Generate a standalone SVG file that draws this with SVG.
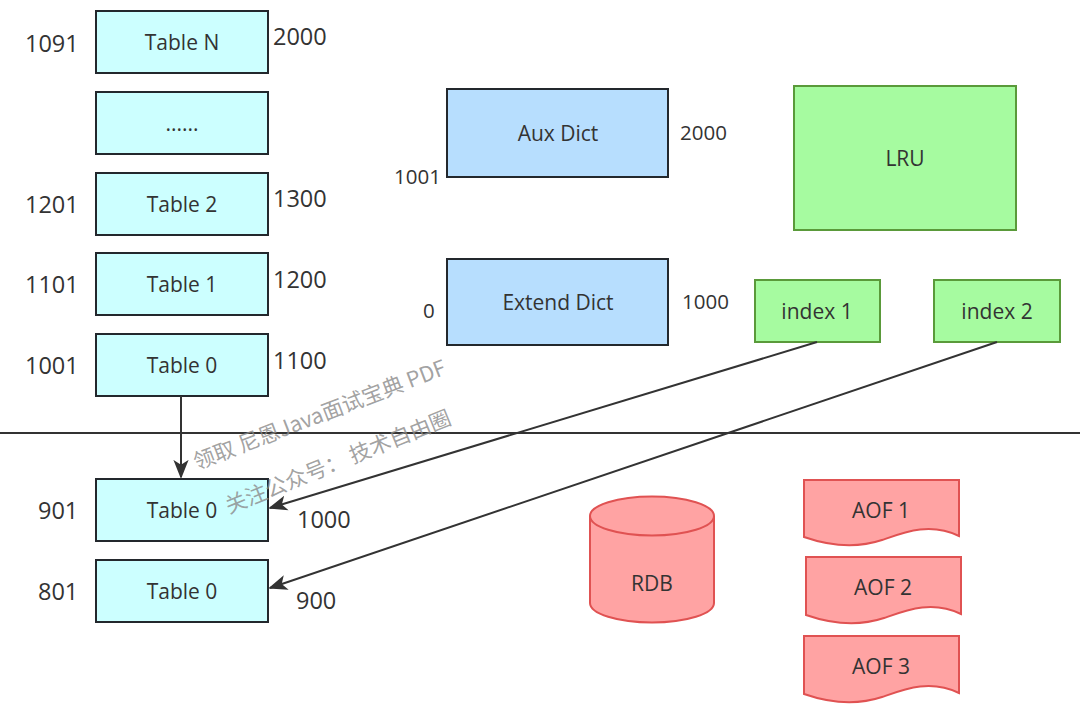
<svg xmlns="http://www.w3.org/2000/svg" width="1080" height="723" viewBox="0 0 1080 723">
<style>
text{font-family:"Open Sans","Liberation Sans",sans-serif;fill:#333}
.t{font-size:21px;text-anchor:middle;dominant-baseline:central}
.n{font-size:23.5px}
.s{font-size:20.5px}
.tbl{fill:#CCFFFF;stroke:#23282d;stroke-width:2}
.dict{fill:#B7DEFE;stroke:#23282d;stroke-width:2}
.grn{fill:#A6FBA0;stroke:#5A9A3A;stroke-width:2}
.red{fill:#FFA3A3;stroke:#E05252;stroke-width:2}
.wm{font-family:"Noto Sans CJK SC","Open Sans",sans-serif;font-size:21.5px;fill:#8a8a8a;fill-opacity:0.8}
.c{stroke:#333;stroke-width:2;fill:none}
</style>
<defs>
<marker id="ah2" viewBox="0 0 10 10" refX="9" refY="5" markerWidth="19" markerHeight="19" markerUnits="userSpaceOnUse" orient="auto">
<path d="M0,1 L10,5 L0,9 L2.5,5 Z" fill="#333"/>
</marker>
</defs>

<line x1="0" y1="433" x2="1080" y2="433" stroke="#333" stroke-width="2"/>

<g id="tableN"><rect class="tbl" x="96" y="11" width="172" height="62"/><text class="t" x="182" y="42">Table N</text></g>
<g id="tableDots"><rect class="tbl" x="96" y="92" width="172" height="62"/><text class="t" x="182" y="123">......</text></g>
<g id="table2"><rect class="tbl" x="96" y="173" width="172" height="62"/><text class="t" x="182" y="204">Table 2</text></g>
<g id="table1"><rect class="tbl" x="96" y="253" width="172" height="62"/><text class="t" x="182" y="284">Table 1</text></g>
<g id="table0"><rect class="tbl" x="96" y="334" width="172" height="62"/><text class="t" x="182" y="365">Table 0</text></g>
<g id="table0b"><rect class="tbl" x="96" y="479" width="172" height="62"/><text class="t" x="182" y="510">Table 0</text></g>
<g id="table0c"><rect class="tbl" x="96" y="560" width="172" height="62"/><text class="t" x="182" y="591">Table 0</text></g>

<g id="tableLabels" class="n">
<text x="25" y="52">1091</text><text x="273" y="45">2000</text>
<text x="25" y="213">1201</text><text x="273" y="207">1300</text>
<text x="25" y="293">1101</text><text x="273" y="288">1200</text>
<text x="25" y="374">1001</text><text x="273" y="369">1100</text>
<text x="38" y="519">901</text><text x="297" y="528">1000</text>
<text x="38" y="600">801</text><text x="296" y="609">900</text>
</g>

<g id="auxDict"><rect class="dict" x="447" y="89" width="221" height="88"/><text class="t" x="558" y="133">Aux Dict</text></g>
<g id="extendDict"><rect class="dict" x="447" y="259" width="221" height="86"/><text class="t" x="558" y="302">Extend Dict</text></g>
<g id="dictLabels" class="s">
<text x="394" y="184">1001</text><text x="680" y="140">2000</text>
<text x="423" y="318">0</text><text x="682" y="309">1000</text>
</g>

<g id="lru"><rect class="grn" x="794" y="86" width="222" height="144"/><text class="t" x="905" y="158">LRU</text></g>
<g id="index1"><rect class="grn" x="755" y="280" width="125" height="62"/><text class="t" x="817" y="311">index 1</text></g>
<g id="index2"><rect class="grn" x="934" y="280" width="126" height="62"/><text class="t" x="997" y="311">index 2</text></g>

<g id="rdb">
<path class="red" d="M590,516 A62,19.5 0 0 1 714,516 V603 A62,19.5 0 0 1 590,603 Z"/>
<path d="M590,516 A62,19.5 0 0 0 714,516" fill="none" stroke="#E05252" stroke-width="2"/>
<text class="t" x="652" y="583">RDB</text>
</g>
<g id="aof1"><path class="red" d="M804,480 H959 V536 C930,522 905,532 882,540 C858,548 830,546 804,537 Z"/><text class="t" x="881" y="510">AOF 1</text></g>
<g id="aof2"><path class="red" d="M806,557 H961 V614 C932,600 907,610 884,618 C860,626 832,624 806,615 Z"/><text class="t" x="883" y="587">AOF 2</text></g>
<g id="aof3"><path class="red" d="M804,636 H959 V693 C930,679 905,689 882,697 C858,705 830,703 804,694 Z"/><text class="t" x="881" y="666">AOF 3</text></g>

<g id="connectors">
<line class="c" x1="181" y1="396" x2="181" y2="477" marker-end="url(#ah2)"/>
<line class="c" x1="817" y1="342" x2="270" y2="508" marker-end="url(#ah2)"/>
<line class="c" x1="997" y1="342" x2="270" y2="588" marker-end="url(#ah2)"/>
</g>

<g id="watermark">
<text class="wm" transform="translate(197,470) rotate(-21)">领取 尼恩Java面试宝典 PDF</text>
<text class="wm" transform="translate(229,514) rotate(-22)">关注公众号：  技术自由圈</text>
</g>
</svg>
